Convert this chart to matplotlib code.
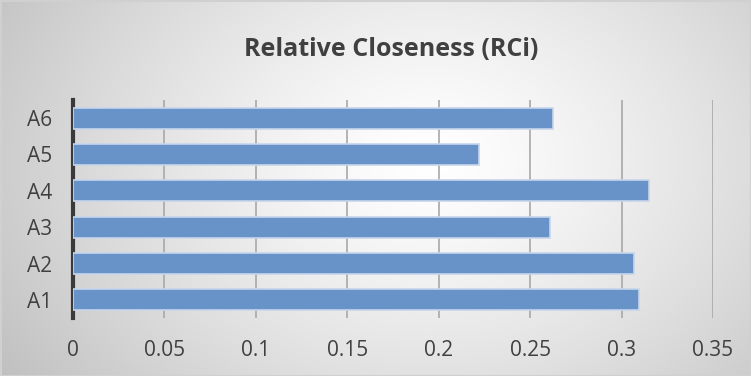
import numpy as np
import matplotlib
matplotlib.use("Agg")
import matplotlib.pyplot as plt

categories = ["A1", "A2", "A3", "A4", "A5", "A6"]
values = [0.3097, 0.307, 0.2609, 0.315, 0.2222, 0.2627]
xticks = [0, 0.05, 0.1, 0.15, 0.2, 0.25, 0.3, 0.35]
xticklabels = ["0", "0.05", "0.1", "0.15", "0.2", "0.25", "0.3", "0.35"]
title = "Relative Closeness (RCi)"

plt.rcParams['font.family'] = ['Open Sans', 'DejaVu Sans']

W, H = 751, 376
fig = plt.figure(figsize=(W / 100, H / 100), dpi=100)

# radial gradient background
bg = fig.add_axes([0, 0, 1, 1], zorder=0)
yy, xx = np.mgrid[0:H, 0:W]
cx, cy = 430, 160
r = np.sqrt(((xx - cx) / 1.0) ** 2 + ((yy - cy) / 0.75) ** 2)
t = np.clip(r / 520, 0, 1)
v = 1.0 - 0.25 * t ** 1.3
img = np.dstack([v, v, v])
bg.imshow(img, extent=[0, W, H, 0], aspect='auto')
bg.set_xlim(0, W); bg.set_ylim(H, 0)
bg.add_patch(plt.Rectangle((0.5, 0.5), W - 1, H - 1, fill=False, ec='#d0d0d0', lw=1.5))
bg.axis('off')

ax = fig.add_axes([73 / W, 1 - 318 / H, (713 - 73) / W, (318 - 100) / H], zorder=1)
ax.patch.set_alpha(0)
y = np.arange(len(categories))
ax.barh(y, values, height=0.58, color='#6793c9', edgecolor='#c6d6ec', linewidth=1.2, zorder=3)
ax.set_xlim(0, 0.35)
ax.set_ylim(-0.5, len(categories) - 0.5)
ax.set_yticks(y)
ax.set_yticklabels(categories)
ax.set_xticks(xticks)
ax.set_xticklabels(xticklabels)
ax.grid(axis='x', color='#a8a8a8', linewidth=1.2, zorder=0)
ax.set_axisbelow(True)
for s in ['top', 'right', 'bottom']:
    ax.spines[s].set_visible(False)
ax.spines['left'].set_color('#3a3a3a')
ax.spines['left'].set_linewidth(3)
ax.tick_params(axis='both', length=0, labelsize=15, colors='#404040')
ax.tick_params(axis='x', pad=16)
ax.tick_params(axis='y', pad=15)

fig.text(391 / W, 1 - 49 / H, title, ha='center', va='center', fontsize=18,
         fontweight='bold', color='#404040')

fig.savefig("out.png", dpi=100)
